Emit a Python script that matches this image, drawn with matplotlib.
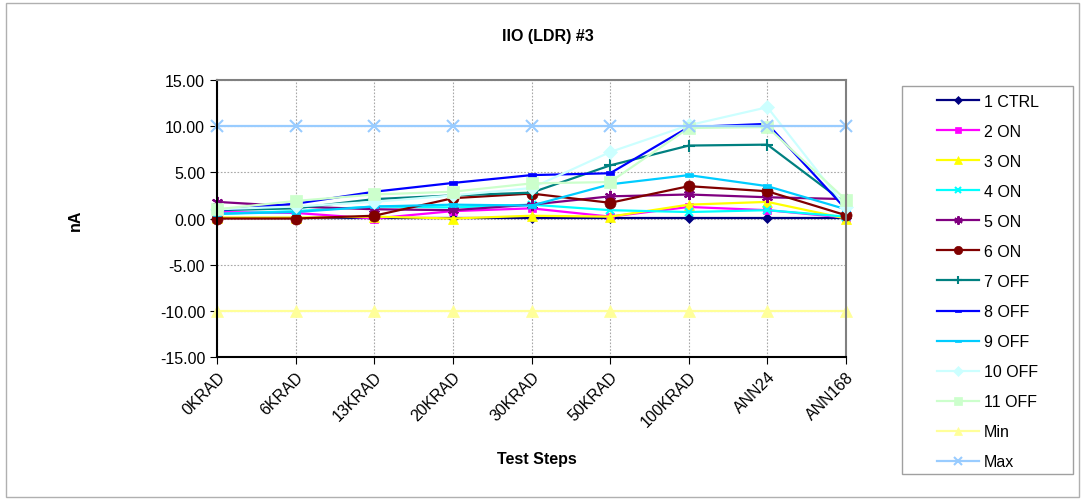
import numpy as np
from matplotlib import pyplot as plt
from matplotlib.patches import Rectangle

plt.rcParams["font.family"] = ["Liberation Sans", "DejaVu Sans"]

steps = ["0KRAD", "6KRAD", "13KRAD", "20KRAD", "30KRAD", "50KRAD", "100KRAD", "ANN24", "ANN168"]

ctrl_1 = [0.05, 0.05, 0.05, 0.05, 0.05, 0.05, 0.05, 0.05, 0.05]
on_2 = [0.7, 0.6, 0.0, 0.8, 1.1, 0.2, 1.25, 0.9, 0.1]
on_3 = [0.1, 0.1, 0.2, 0.0, 0.3, 0.2, 1.5, 1.8, 0.0]
on_4 = [0.5, 0.8, 1.3, 1.2, 1.5, 0.9, 0.7, 0.9, 0.2]
on_5 = [1.8, 1.3, 1.0, 0.9, 1.5, 2.4, 2.6, 2.3, 2.1]
on_6 = [0.0, 0.0, 0.3, 2.2, 2.7, 1.7, 3.5, 2.95, 0.35]
off_7 = [0.9, 1.1, 2.1, 2.5, 2.8, 5.75, 7.9, 8.0, 1.6]
off_8 = [0.9, 1.6, 2.9, 3.85, 4.7, 4.9, 9.9, 10.25, 1.0]
off_9 = [0.5, 0.7, 1.3, 1.5, 1.4, 3.7, 4.7, 3.5, 1.0]
off_10 = [1.0, 1.3, 1.8, 2.5, 3.3, 7.2, 10.1, 12.05, 1.2]
off_11 = [1.0, 1.9, 2.6, 2.9, 3.8, 3.95, 9.8, 9.9, 2.0]
min_line = [-10.0] * 9
max_line = [10.0] * 9

# Excel-style "dash" marker: a short filled bar
dash = [(-1, -0.45), (1, -0.45), (1, 0.45), (-1, 0.45), (-1, -0.45)]

series = [
    ("1 CTRL", ctrl_1, "#000080", "D", 5),
    ("2 ON", on_2, "#FF00FF", "s", 6),
    ("3 ON", on_3, "#FFFF00", "^", 7),
    ("4 ON", on_4, "#00FFFF", "x", 6),
    ("5 ON", on_5, "#800080", (6, 2, 0), 8),
    ("6 ON", on_6, "#800000", "o", 8),
    ("7 OFF", off_7, "#008080", "+", 8),
    ("8 OFF", off_8, "#0000FF", dash, 6),
    ("9 OFF", off_9, "#00CCFF", dash, 6),
    ("10 OFF", off_10, "#CCFFFF", "D", 7),
    ("11 OFF", off_11, "#CCFFCC", "s", 8),
    ("Min", min_line, "#FFFF99", "^", 8),
    ("Max", max_line, "#99CCFF", "x", 8),
]

fig = plt.figure(figsize=(10.83, 5.02), dpi=100)
fig.patches.append(Rectangle((0.006, 0.008), 0.99, 0.984, transform=fig.transFigure,
                             fill=False, edgecolor="#b0b0b0", linewidth=1))
ax = fig.add_axes([217 / 1083, 1 - 358 / 502, (846 - 217) / 1083, (358 - 81) / 502])

x = np.arange(len(steps))
for name, vals, color, marker, ms in series:
    ax.plot(x, vals, color=color, marker=marker, markersize=ms, linewidth=1.6,
            markeredgewidth=1.5 if marker in ("x", "+", (6, 2, 0)) else 0.5,
            markeredgecolor=color, label=name, clip_on=False)

ax.set_xlim(0, len(steps) - 1)
ax.set_ylim(-15, 15)
ax.set_yticks(np.arange(-15, 16, 5))
ax.set_yticklabels([f"{v:.2f}" for v in np.arange(-15, 16, 5)], fontsize=11.5)
ax.set_xticks(x)
ax.set_xticklabels(steps, rotation=45, ha="right", rotation_mode="anchor", fontsize=11.5)
ax.grid(True, color="#a8a8a8", linestyle=(0, (1.5, 1.5)), linewidth=0.8)
ax.set_axisbelow(True)
ax.tick_params(direction="out", length=5, color="black")
ax.spines["left"].set_linewidth(1.5)
ax.spines["bottom"].set_linewidth(1.5)
for s in ("top", "right"):
    ax.spines[s].set_color("#808080")
    ax.spines[s].set_linewidth(1.5)

fig.text(548 / 1083, 1 - 36 / 502, "IIO (LDR) #3", ha="center", va="center",
         fontsize=11.5, fontweight="bold")
fig.text(75 / 1083, 1 - 220 / 502, "nA", ha="center", va="center", rotation=90,
         fontsize=11.5, fontweight="bold")
fig.text(537 / 1083, 1 - 460 / 502, "Test Steps", ha="center", va="center",
         fontsize=11.5, fontweight="bold")

# legend frame drawn separately so the padding matches the original
fig.patches.append(Rectangle((902 / 1083, 1 - 475 / 502), (1073 - 902) / 1083, (475 - 87) / 502,
                             transform=fig.transFigure, fill=False, edgecolor="#a0a0a0",
                             linewidth=1))
fig.legend(loc="upper left", bbox_to_anchor=(937 / 1083, 1 - 95 / 502),
           fontsize=11.5, frameon=False, handlelength=2.65, labelspacing=0.94,
           borderpad=0, handletextpad=0.3, borderaxespad=0, markerscale=0.75)

plt.savefig("out.png", dpi=100)
